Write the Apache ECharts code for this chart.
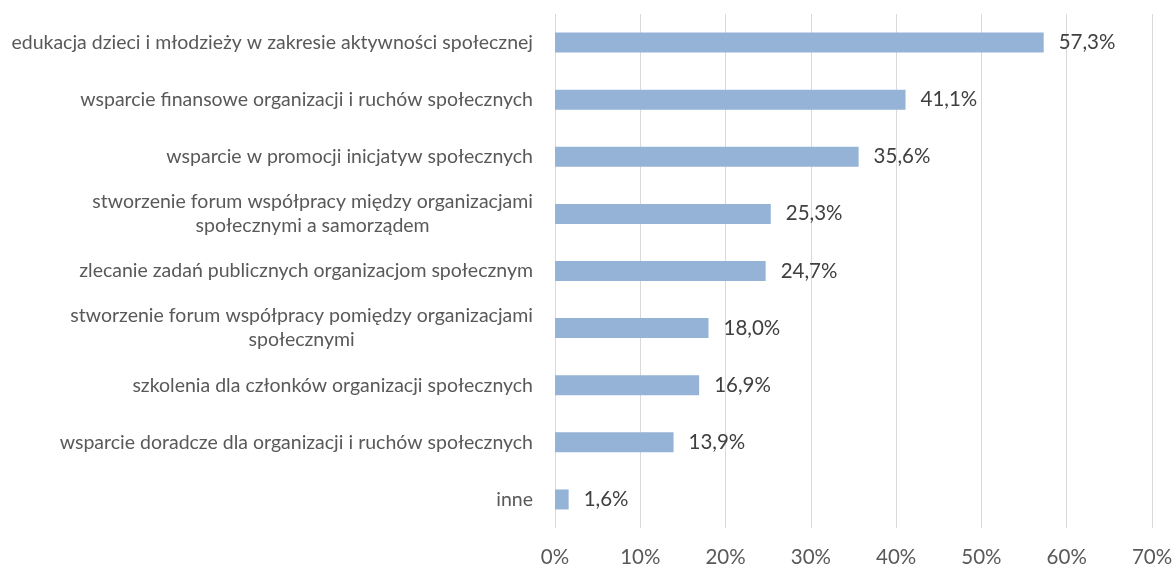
<!DOCTYPE html>
<html>
<head>
<meta charset="utf-8">
<script src="https://cdn.jsdelivr.net/npm/echarts@6/dist/echarts.min.js"></script>
<style>
  html, body { margin: 0; padding: 0; background: #ffffff; }
  #chart { width: 1176px; height: 568px; }
</style>
</head>
<body>
<div id="chart"></div>
<script>
// Categories, top to bottom
const categories = [
  'edukacja dzieci i młodzieży w zakresie aktywności społecznej',
  'wsparcie finansowe organizacji i ruchów społecznych',
  'wsparcie w promocji inicjatyw społecznych',
  'stworzenie forum współpracy między organizacjami\nspołecznymi a samorządem',
  'zlecanie zadań publicznych organizacjom społecznym',
  'stworzenie forum współpracy pomiędzy organizacjami\nspołecznymi',
  'szkolenia dla członków organizacji społecznych',
  'wsparcie doradcze dla organizacji i ruchów społecznych',
  'inne'
];
// Share of responses, percent
const values = [57.3, 41.1, 35.6, 25.3, 24.7, 18.0, 16.9, 13.9, 1.6];
// Value axis range and step, percent
const axisMin = 0;
const axisMax = 70;
const axisStep = 10;

const FONT = 'Lato';
const fmtPct = v => v.toFixed(1).replace('.', ',') + '%';

const chart = echarts.init(document.getElementById('chart'), null, { renderer: 'canvas' });
chart.setOption({
  animation: false,
  backgroundColor: '#ffffff',
  grid: { left: 555, right: 24, top: 14, bottom: 40, containLabel: false },
  xAxis: {
    type: 'value',
    min: axisMin,
    max: axisMax,
    interval: axisStep,
    axisLine: { show: false },
    axisTick: { show: false },
    splitLine: { show: true, lineStyle: { color: '#d9d9d9', width: 1 } },
    axisLabel: {
      color: '#595959',
      fontFamily: FONT,
      fontSize: 20.5,
      margin: 19,
      formatter: v => v + '%'
    }
  },
  yAxis: {
    type: 'category',
    inverse: true,
    data: categories,
    axisLine: { show: false },
    axisTick: { show: false },
    splitLine: { show: false },
    axisLabel: {
      color: '#595959',
      fontFamily: FONT,
      fontSize: 19.5,
      lineHeight: 24,
      margin: 22,
      align: 'right',
      formatter: s => s.split('\n').map(l => '{c|' + l + '}').join('\n'),
      rich: {
        c: { align: 'center', color: '#595959', fontFamily: FONT, fontSize: 19.5, lineHeight: 24 }
      }
    }
  },
  series: [{
    type: 'bar',
    data: values,
    barWidth: 20,
    itemStyle: { color: '#95b3d7' },
    label: {
      show: true,
      position: 'right',
      distance: 15,
      color: '#404040',
      fontFamily: FONT,
      fontSize: 20.5,
      formatter: p => fmtPct(p.value)
    }
  }]
});
</script>
</body>
</html>
